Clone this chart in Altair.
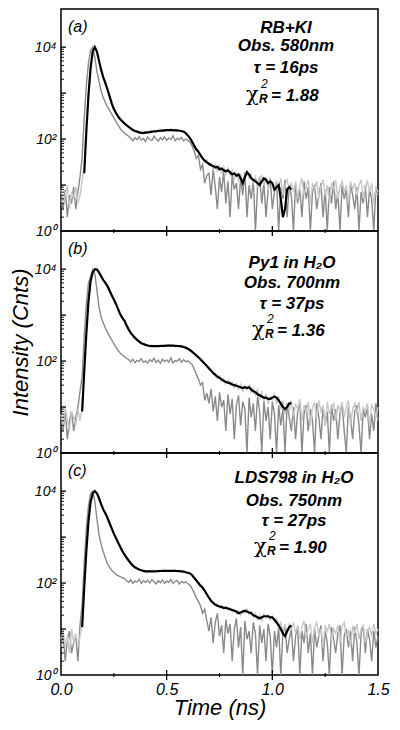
import altair as alt
import pandas as pd

# ---------------- data (counts, 0.01 ns channels) ----------------
TIME_STEP = 0.01

IRF_A = [5, 3, 8, 2, 6, 4, 9, 3, 7, 15,
         40, 300, 1500, 4500, 8500, 10000, 6000, 3000, 1800, 1100,
         800, 620, 500, 420, 350, 290, 240, 200, 170, 150,
         135, 125, 115, 104, 92, 108, 97, 112, 95, 103,
         88, 110, 99, 93, 116, 101, 90, 107, 96, 112,
         94, 105, 99, 118, 92, 104, 97, 109, 91, 100,
         94, 85, 72, 55, 38, 44, 22, 28, 11, 16,
         18, 6, 22, 9, 3, 15, 7, 20, 4, 12,
         2, 16, 8, 11, 3, 14, 6, 19, 2, 10,
         5, 13, 1, 9, 15, 4, 11, 2, 8, 14,
         3, 7, 12, 1, 9, 5, 13, 2, 10, 6,
         1, 11, 4, 8, 2, 12, 5, 9, 1, 7,
         10, 3, 6, 11, 2, 8, 1, 9, 4, 12,
         3, 7, 1, 10, 5, 8, 2, 11, 6, 3,
         9, 1, 7, 4, 10, 2, 8, 5, 1, 9,
         6]
DATA_A = [8, 4, 6, 10, 3, 7, 5, 9, 4, 6,
          12, 25, 160, 950, 3600, 8100, 9900, 7900, 5100, 3100,
          2300, 1600, 1250, 830, 610, 440, 380, 300, 280, 240,
          225, 195, 190, 165, 162, 146, 150, 135, 142, 130,
          145, 135, 150, 140, 155, 142, 158, 145, 160, 148,
          162, 150, 165, 148, 160, 152, 158, 146, 150, 138,
          122, 108, 86, 75, 58, 52, 42, 40, 32, 35,
          27, 30, 22, 28, 20, 26, 18, 25, 17, 23,
          16, 21, 13, 19, 12, 18, 10, 16, 20, 14,
          17, 11, 15, 9, 14, 16, 10, 15, 8, 13,
          11, 7, 12, 9, 14, 6, 10, 13, 8, 11,
          7, 12, 5, 10, 14, 6, 9, 13, 4, 11,
          8, 12, 5, 9, 13, 6, 10, 4, 11, 8,
          13, 5, 9, 12, 7, 10, 4, 12, 8, 11,
          6, 10, 13, 5, 9, 12, 7, 11, 4, 9,
          7]
FIT_A_START = 0.11
FIT_A = [18, 150, 900, 3500, 8000, 10000, 8000, 5000, 3200,
         2200, 1650, 1200, 850, 600, 450, 370, 310, 270, 245,
         220, 200, 185, 170, 158, 150, 145, 140, 137, 136,
         138, 140, 142, 145, 146, 148, 150, 152, 153, 155,
         156, 157, 157, 156, 155, 154, 152, 150, 145, 135,
         120, 105, 88, 72, 60, 53, 45, 38, 34, 31,
         29, 27, 26, 24, 25, 22, 23, 21, 20, 21,
         19, 17, 18, 16, 17, 14, 11, 15, 19, 17,
         14, 13, 12, 11, 10, 12, 14, 13, 11, 12,
         11, 8, 9, 10, 5, 2, 3, 8, 9, 8]

IRF_B = [6, 3, 9, 2, 5, 8, 3, 6, 10, 22,
         45, 350, 1800, 5000, 7000, 9800, 8000, 3500, 1500, 900,
         680, 520, 420, 350, 290, 240, 200, 170, 150, 135,
         125, 115, 108, 96, 110, 92, 104, 99, 113, 94,
         101, 90, 108, 97, 115, 93, 105, 89, 110, 98,
         106, 95, 117, 91, 103, 99, 112, 94, 108, 97,
         101, 92, 84, 68, 52, 41, 30, 34, 14, 20,
         12, 25, 8, 17, 5, 21, 10, 14, 3, 19,
         7, 15, 2, 11, 18, 4, 13, 9, 1, 16,
         6, 12, 3, 17, 8, 1, 14, 5, 10, 2,
         13, 7, 1, 11, 4, 9, 1, 12, 6, 3,
         10, 2, 8, 13, 1, 7, 11, 3, 9, 5,
         1, 12, 6, 2, 10, 4, 8, 1, 11, 5,
         9, 2, 7, 12, 3, 1, 10, 6, 2, 8,
         11, 4, 1, 9, 6, 10, 2, 7, 3, 12,
         5]
DATA_B = [7, 4, 10, 5, 3, 8, 6, 4, 9, 5,
          10, 70, 420, 2100, 5600, 8600, 9900, 9700, 8400, 7100,
          5700, 5100, 4200, 3450, 2650, 2150, 1720, 1380, 1030, 880,
          750, 610, 480, 420, 350, 330, 280, 270, 240, 238,
          220, 226, 208, 222, 205, 218, 210, 224, 206, 220,
          212, 228, 210, 222, 214, 220, 205, 215, 198, 200,
          180, 178, 155, 150, 128, 124, 105, 100, 84, 80,
          66, 64, 52, 55, 42, 48, 36, 41, 32, 38,
          30, 35, 26, 33, 24, 31, 22, 29, 24, 30,
          21, 26, 18, 24, 15, 21, 13, 19, 12, 17,
          14, 19, 12, 17, 9, 14, 7, 12, 8, 14,
          6, 12, 9, 15, 5, 11, 8, 13, 4, 10,
          12, 6, 14, 8, 11, 4, 13, 7, 10, 12,
          5, 11, 8, 13, 6, 10, 14, 4, 9, 12,
          7, 13, 5, 10, 8, 12, 4, 11, 9, 6,
          10]
FIT_B_START = 0.10
FIT_B = [8, 60, 400, 2000, 5500, 8500, 10000, 9800, 8500, 7000,
         5800, 5000, 4300, 3400, 2700, 2200, 1750, 1350, 1050, 870,
         760, 600, 490, 410, 360, 320, 290, 265, 245, 235,
         225, 218, 214, 212, 211, 211, 212, 213, 214, 215,
         216, 217, 217, 216, 215, 213, 211, 208, 203, 196,
         186, 174, 160, 146, 133, 121, 110, 98, 88, 78,
         70, 62, 55, 50, 46, 43, 40, 37, 35, 34,
         33, 31, 30, 29, 28, 27, 26, 27, 26, 27,
         24, 22, 21, 19, 18, 17, 16, 16, 15, 15,
         16, 17, 16, 14, 12, 10, 9, 10, 12, 12]

IRF_C = [4, 8, 2, 6, 9, 3, 5, 7, 2, 12,
         35, 280, 1600, 4800, 8800, 10000, 6000, 2500, 1100, 700,
         480, 350, 260, 220, 190, 170, 155, 145, 138, 132,
         125, 112, 104, 118, 99, 110, 106, 121, 98, 112,
         104, 115, 100, 119, 107, 96, 113, 102, 117, 99,
         111, 103, 120, 97, 108, 114, 95, 109, 101, 106,
         98, 90, 76, 62, 48, 40, 32, 22, 27, 15,
         9, 18, 5, 14, 22, 7, 12, 3, 16, 8,
         13, 2, 10, 17, 4, 11, 1, 15, 6, 9,
         3, 14, 8, 1, 12, 5, 10, 2, 13, 7,
         1, 9, 4, 11, 1, 8, 12, 3, 6, 10,
         2, 7, 11, 1, 9, 5, 13, 3, 8, 1,
         10, 4, 7, 12, 2, 9, 5, 1, 11, 6,
         3, 8, 12, 1, 7, 10, 4, 9, 2, 11,
         5, 1, 8, 12, 3, 10, 6, 2, 9, 4,
         7]
DATA_C = [6, 9, 4, 7, 3, 10, 5, 8, 4, 7,
          13, 90, 520, 2300, 5900, 8900, 9900, 8800, 7100, 5100,
          4100, 3200, 2650, 1950, 1600, 1150, 980, 730, 640, 480,
          430, 350, 320, 262, 245, 212, 215, 190, 196, 178,
          186, 172, 190, 176, 188, 174, 192, 178, 186, 180,
          190, 176, 188, 180, 192, 174, 186, 178, 184, 172,
          170, 158, 152, 125, 118, 96, 92, 76, 70, 55,
          50, 40, 39, 33, 35, 29, 33, 27, 31, 26,
          29, 24, 27, 22, 25, 20, 26, 22, 27, 21,
          24, 18, 22, 16, 20, 15, 21, 17, 20, 16,
          19, 14, 17, 11, 14, 9, 12, 8, 13, 10,
          14, 8, 12, 6, 11, 15, 7, 10, 13, 5,
          11, 14, 7, 10, 4, 12, 9, 13, 6, 10,
          8, 12, 5, 11, 14, 7, 9, 4, 12, 8,
          13, 6, 10, 12, 5, 9, 11, 7, 13, 8,
          10]
FIT_C_START = 0.10
FIT_C = [11, 80, 500, 2200, 5800, 9000, 10000, 9000, 7000, 5200,
         4000, 3300, 2600, 2000, 1550, 1200, 950, 760, 620, 500,
         420, 360, 310, 270, 240, 220, 208, 198, 190, 184,
         180, 179, 179, 180, 180, 181, 182, 183, 184, 184,
         185, 185, 185, 184, 184, 183, 182, 180, 177, 172,
         168, 162, 150, 130, 115, 100, 88, 80, 68, 57,
         48, 41, 37, 34, 32, 31, 30, 29, 29, 28,
         27, 26, 25, 24, 22, 23, 24, 25, 24, 23,
         22, 20, 19, 18, 17, 18, 19, 19, 19, 18,
         18, 16, 14, 12, 10, 8, 7, 9, 11, 12]

LETTERS = ["(a)", "(b)", "(c)"]
SAMPLES = ["RB+KI", "Py1 in H\u2082O", "LDS798 in H\u2082O"]
OBS = ["Obs. 580nm", "Obs. 700nm", "Obs. 750nm"]
TAUS = ["\u03c4 = 16ps", "\u03c4 = 37ps", "\u03c4 = 27ps"]
CHI = ["= 1.88", "= 1.36", "= 1.90"]

X_LABELS = [0.0, 0.5, 1.0, 1.5]
X_MAJOR = [0.5, 1.0]
X_MINOR = [0.25, 0.75, 1.25]
Y_LABELS = [1, 100, 10000]
Y_MAJOR = [10, 100, 1000, 10000]
Y_MINOR = [m * 10 ** k for k in range(4) for m in range(2, 10)]

# ---------------- layout / style ----------------
W, H = 317, 222
Y_TOP = 10 ** 4.83
FONT = "Liberation Sans"
C_IRF = "#8a8a8a"
C_DATA = "#c8c8c8"

CENTERS = [225, 231, 233]
BASELINES = [[24, 42, 64, 92], [37, 57, 78, 105], [30, 53, 73, 100]]


def series_df(values, start):
    return pd.DataFrame({"t": [round(start + i * TIME_STEP, 2) for i in range(len(values))],
                         "v": values})


def xenc(axis):
    return alt.X("t:Q", scale=alt.Scale(domain=[0, 1.5], nice=False, zero=False), axis=axis)


def yenc(axis):
    return alt.Y("v:Q", scale=alt.Scale(type="log", domain=[1, Y_TOP], nice=False), axis=axis)


def text_layer(txt, x, y, size=17, align="center", weight="bold", style="italic", font=FONT):
    return alt.Chart(pd.DataFrame({"s": [txt]})).mark_text(
        align=align, baseline="alphabetic", fontSize=size, fontWeight=weight,
        fontStyle=style, font=font, color="black"
    ).encode(text="s:N", x=alt.value(x), y=alt.value(y))


def panel(i, irf, data, fit, fit_start):
    bottom = i == 2
    if bottom:
        xaxis = alt.Axis(values=X_LABELS, format=".1f", ticks=False, domain=False, grid=False,
                         labelFontSize=16, labelFont=FONT, labelFontStyle="italic",
                         labelColor="black", labelPadding=6, labelFlush=False,
                         title="Time (ns)", titleFontSize=22, titleFont=FONT,
                         titleFontStyle="italic", titleFontWeight="normal",
                         titleColor="black", titlePadding=0)
    else:
        xaxis = None
    yaxis = alt.Axis(values=Y_LABELS,
                     labelExpr="datum.value == 1 ? '10\u2070' : datum.value == 100 ? '10\u00b2' : '10\u2074'",
                     ticks=False, domain=False, grid=False, labelFontSize=14, labelFont=FONT,
                     labelFontStyle="italic", labelColor="black", labelPadding=5,
                     title="Intensity (Cnts)" if i == 1 else "",
                     titleFontSize=22, titleFont=FONT, titleFontStyle="italic",
                     titleFontWeight="normal", titleColor="black", titlePadding=2)

    base_enc = dict(x=xenc(xaxis), y=yenc(yaxis))
    l_irf = alt.Chart(series_df(irf, 0.0)).mark_line(color=C_IRF, strokeWidth=1.4).encode(**base_enc)
    l_data = alt.Chart(series_df(data, 0.0)).mark_line(color=C_DATA, strokeWidth=1.4).encode(**base_enc)
    l_fit = alt.Chart(series_df(fit, fit_start)).mark_line(color="black", strokeWidth=2.2).encode(**base_enc)

    xt_major = alt.Chart(pd.DataFrame({"t": X_MAJOR})).mark_rule(color="black", strokeWidth=1.3).encode(
        x=xenc(xaxis), y=alt.value(H - 5), y2=alt.value(H + 5))
    xt_minor = alt.Chart(pd.DataFrame({"t": X_MINOR})).mark_rule(color="black", strokeWidth=1.1).encode(
        x=xenc(xaxis), y=alt.value(H - 2), y2=alt.value(H + 2))
    yt_major = alt.Chart(pd.DataFrame({"v": Y_MAJOR})).mark_rule(color="black", strokeWidth=1.3).encode(
        y=yenc(yaxis), x=alt.value(0), x2=alt.value(5))
    yt_minor = alt.Chart(pd.DataFrame({"v": Y_MINOR})).mark_rule(color="black", strokeWidth=0.9).encode(
        y=yenc(yaxis), x=alt.value(0), x2=alt.value(3))

    cx = CENTERS[i]
    b = BASELINES[i]
    texts = [
        text_layer(LETTERS[i], 7, 23, size=16, align="left", weight="normal"),
        text_layer(SAMPLES[i], cx, b[0]),
        text_layer(OBS[i], cx, b[1]),
        text_layer(TAUS[i], cx, b[2]),
        text_layer("\u03c7", cx - 40, b[3], size=21, align="left", weight="normal",
                   style="normal", font="DejaVu Serif"),
        text_layer("2", cx - 25, b[3] - 13, size=12, align="left", weight="normal"),
        text_layer("R", cx - 27, b[3] + 2, size=12, align="left"),
        text_layer(CHI[i], cx - 15, b[3], align="left"),
    ]
    return alt.layer(l_irf, l_data, l_fit, xt_major, xt_minor, yt_major, yt_minor, *texts).properties(
        width=W, height=H)


PANELS = [
    panel(0, IRF_A, DATA_A, FIT_A, FIT_A_START),
    panel(1, IRF_B, DATA_B, FIT_B, FIT_B_START),
    panel(2, IRF_C, DATA_C, FIT_C, FIT_C_START),
]

chart = alt.vconcat(*PANELS, spacing=0, bounds="flush").properties(
    padding={"top": 0, "left": 0, "right": 0, "bottom": 2}
).configure_view(stroke="black", strokeWidth=1.5)

chart.save("out.html", embed_options={"renderer": "svg", "actions": False})
